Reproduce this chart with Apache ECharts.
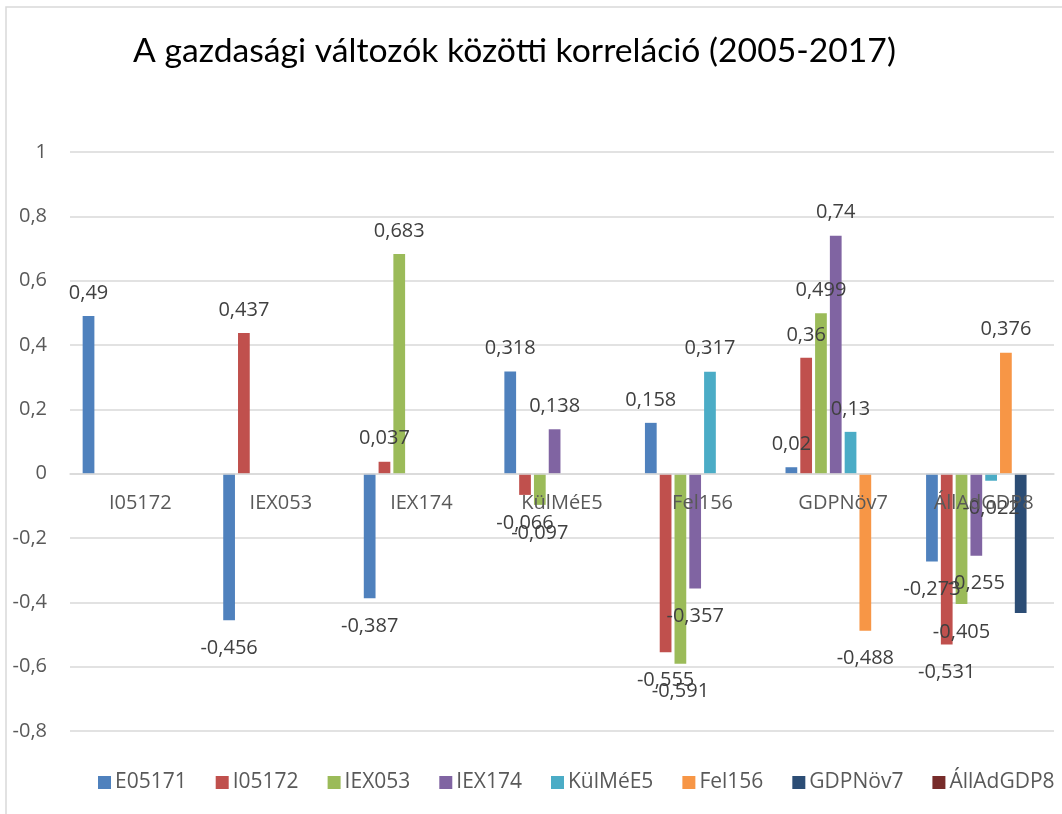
<html>
	<head>
		<meta charset="utf-8">
		<script type="text/javascript" src="https://cdn.jsdelivr.net/npm/echarts@6/dist/echarts.min.js"></script>
	</head>
	<body style="margin: 0; padding: 0; background: #fff;">
        <div id="myChart" style="height: 814px; width: 1062px; margin: 0; padding: 0;"></div>
        <script type="text/javascript">
			var categories = ['I05172', 'IEX053', 'IEX174', 'KülMéE5', 'Fel156', 'GDPNöv7', 'ÁllAdGDP8'];
			var seriesNames = ['E05171', 'I05172', 'IEX053', 'IEX174', 'KülMéE5', 'Fel156', 'GDPNöv7', 'ÁllAdGDP8'];
			var E05171 = [0.49, -0.456, -0.387, 0.318, 0.158, 0.02, -0.273];
			var I05172 = [null, 0.437, 0.037, -0.066, -0.555, 0.36, -0.531];
			var IEX053 = [null, null, 0.683, -0.097, -0.591, 0.499, -0.405];
			var IEX174 = [null, null, null, 0.138, -0.357, 0.74, -0.255];
			var KulMeE5 = [null, null, null, null, 0.317, 0.13, -0.022];
			var Fel156 = [null, null, null, null, null, -0.488, 0.376];
			var GDPNov7 = [null, null, null, null, null, null, -0.433];
			var AllAdGDP8 = [null, null, null, null, null, null, null];
			var yTicks = [-0.8, 1, 0.2]; // min, max, step

			var fs = 20;
			var colors = ['#4F81BD', '#C0504D', '#9BBB59', '#8064A2', '#4BACC6', '#F79646', '#2C4D75', '#772C2A'];
			var allData = [E05171, I05172, IEX053, IEX174, KulMeE5, Fel156, GDPNov7, AllAdGDP8];

			// grid: top 152, bottom 83 -> the x axis is moved up onto the zero line
			var gridH = 814 - 152 - 83;
			var zeroOffset = -gridH * (0 - yTicks[0]) / (yTicks[1] - yTicks[0]);

			var datas = [];
			for (var i = 0; i < seriesNames.length; i++) {
				var items = [];
				for (var j = 0; j < allData[i].length; j++) {
					var v = allData[i][j];
					items.push(v == null ? null : { value: v, label: { distance: v < 0 ? 18 : 13 } });
				}
				datas.push({
					name: seriesNames[i],
					type: 'bar',
					barGap: '26%',
					barCategoryGap: '18%',
					data: items,
					label: {
						show: seriesNames[i] != 'GDPNöv7',
						position: 'outside',
						color: '#404040',
						fontSize: fs,
						fontFamily: 'Open Sans',
						formatter: function (p) { return String(p.value).replace('.', ','); }
					},
					z: 2
				});
			}

			var option = {
				animation: false,
				color: colors,
				title: {
					text: 'A gazdasági változók közötti korreláció (2005-2017)',
					left: 128,
					top: 29,
					textStyle: { fontFamily: 'Lato', fontWeight: 'normal', fontSize: 33.7, color: '#000' }
				},
				legend: {
					data: seriesNames,
					left: 98,
					top: 772,
					padding: 0,
					itemWidth: 13,
					itemHeight: 13,
					itemGap: 29,
					icon: 'rect',
					textStyle: { fontSize: 21, color: '#595959', fontFamily: 'Open Sans', padding: [0, 0, 0, -1] }
				},
				grid: { left: 70, right: 8, top: 152, bottom: 83 },
				xAxis: {
					type: 'category',
					data: categories,
					position: 'bottom',
					offset: zeroOffset,
					z: 5,
					axisLine: { onZero: false, lineStyle: { color: '#d9d9d9', width: 1.5 } },
					axisTick: { show: false },
					axisLabel: { interval: 0, margin: 20, fontSize: fs, color: '#595959', fontFamily: 'Open Sans' }
				},
				yAxis: {
					type: 'value',
					min: yTicks[0],
					max: yTicks[1],
					interval: yTicks[2],
					axisLine: { show: false },
					axisTick: { show: false },
					splitLine: { lineStyle: { color: '#d9d9d9', width: 1.5 } },
					axisLabel: {
						margin: 23, fontSize: fs, color: '#595959', fontFamily: 'Open Sans',
						formatter: function (v) { return String(+v.toFixed(1)).replace('.', ','); }
					}
				},
				graphic: [{
					type: 'rect',
					shape: { x: 6, y: 7, width: 1100, height: 900 },
					style: { fill: 'none', stroke: '#d9d9d9', lineWidth: 1.5 },
					silent: true
				}],
				series: datas
			};
			echarts.init(document.getElementById('myChart')).setOption(option);
	    </script>
    </body>
</html>
